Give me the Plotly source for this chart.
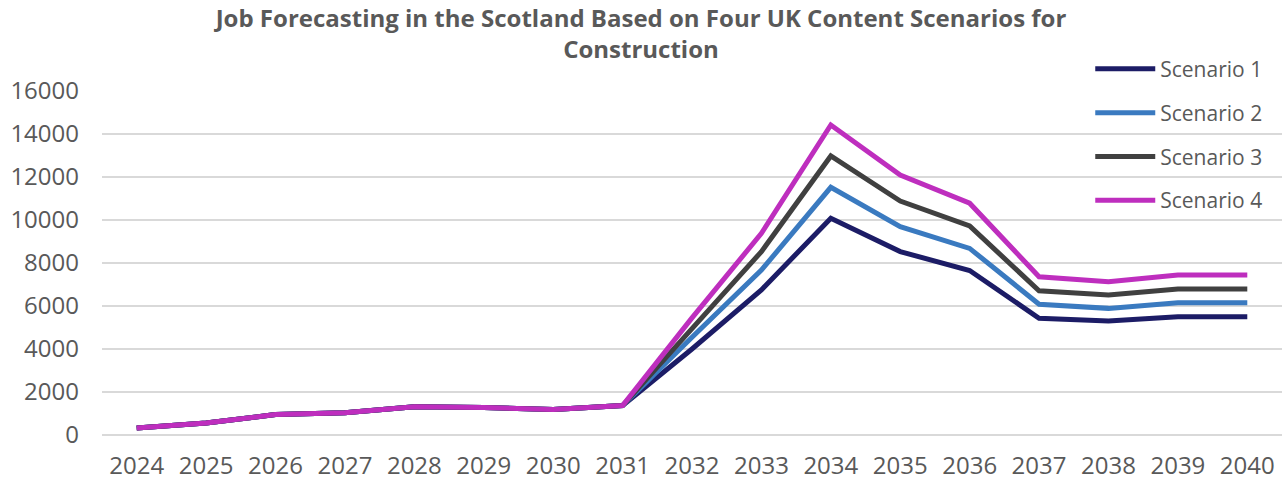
import plotly.graph_objects as go

years = [str(y) for y in range(2024, 2041)]
scenario_1 = [330, 560, 950, 1040, 1310, 1280, 1190, 1370, 4000, 6750, 10080, 8530, 7650, 5430, 5300, 5500, 5500]
scenario_2 = [330, 560, 950, 1040, 1310, 1280, 1190, 1370, 4550, 7670, 11520, 9690, 8680, 6080, 5890, 6150, 6150]
scenario_3 = [330, 560, 950, 1040, 1310, 1280, 1190, 1370, 4950, 8530, 12980, 10880, 9720, 6710, 6510, 6790, 6790]
scenario_4 = [330, 560, 950, 1040, 1310, 1280, 1190, 1370, 5450, 9380, 14420, 12090, 10780, 7360, 7130, 7440, 7440]

names = ["Scenario 1", "Scenario 2", "Scenario 3", "Scenario 4"]
series = [scenario_1, scenario_2, scenario_3, scenario_4]
colors = ["#1C1C66", "#3A7AC0", "#404040", "#BE2EBE"]

FONT = "Open Sans"
GREY = "#595959"

fig = go.Figure()
for name, vals, col in zip(names, series, colors):
    fig.add_trace(go.Scatter(
        x=years, y=vals, name=name, mode="lines",
        line=dict(color=col, width=5),
        legendgroup=name,
    ))

fig.update_layout(
    width=1282, height=486,
    margin=dict(l=102, r=0, t=91, b=51),
    paper_bgcolor="white", plot_bgcolor="white",
    font=dict(family=FONT, color=GREY, size=20),
    title=dict(
        text="<b>Job Forecasting in the Scotland Based on Four UK Content Scenarios for<br>Construction</b>",
        x=0.5, xref="container", xanchor="center",
        yref="container", y=0.945, yanchor="top",
        font=dict(family=FONT, size=24, color=GREY),
    ),
    legend=dict(
        x=0.8375, xanchor="left", y=1.123, yanchor="top",
        bgcolor="rgba(0,0,0,0)", borderwidth=0,
        font=dict(family=FONT, size=21, color=GREY),
        tracegroupgap=13.5, itemwidth=60,
    ),
    showlegend=True,
)
fig.update_xaxes(
    type="category", range=[-0.5, 16.5],
    showgrid=False, showline=False, zeroline=False,
    ticks="", ticklabelstandoff=14,
    tickfont=dict(family=FONT, size=24, color=GREY),
)
fig.update_yaxes(
    range=[0, 16000], dtick=2000, tickformat="d",
    showgrid=True, gridcolor="#D9D9D9", gridwidth=1.5,
    zeroline=True, zerolinecolor="#D9D9D9", zerolinewidth=1.5,
    showline=False, ticks="", ticklabelstandoff=22,
    tickfont=dict(family=FONT, size=24, color=GREY),
)

fig.write_html("out.html")
